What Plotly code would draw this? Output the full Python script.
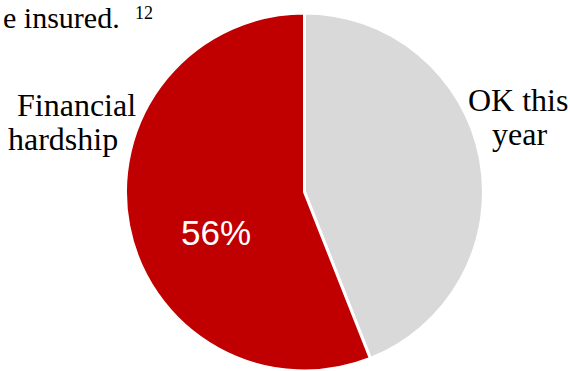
import plotly.graph_objects as go

categories = ["OK this year", "Financial hardship"]
values = [44, 56]
colors = ["#D9D9D9", "#C00000"]
label_lines = {"Financial hardship": ["Financial", "hardship"], "OK this year": ["OK this", "year"]}
header_text = "e insured."
footnote = "12"

W, H = 570, 371

def px(x):
    return x / W

def py(y):
    return 1 - y / H

fig = go.Figure(go.Pie(
    labels=categories,
    values=values,
    marker=dict(colors=colors, line=dict(color="white", width=3)),
    sort=False,
    direction="clockwise",
    rotation=0,
    textinfo="none",
    showlegend=False,
    domain=dict(x=[124 / W, 485 / W], y=[0, 1 - 13 / H]),
))

serif = "Liberation Serif, Times New Roman, serif"
ann = []
left = label_lines["Financial hardship"]
right = label_lines["OK this year"]
ann.append(dict(text=left[0], x=px(76), y=py(105), xanchor="center", yanchor="middle",
                font=dict(family=serif, size=32, color="black")))
ann.append(dict(text=left[1], x=px(63), y=py(139), xanchor="center", yanchor="middle",
                font=dict(family=serif, size=32, color="black")))
ann.append(dict(text=right[0], x=px(518), y=py(100), xanchor="center", yanchor="middle",
                font=dict(family=serif, size=32, color="black")))
ann.append(dict(text=right[1], x=px(519), y=py(134), xanchor="center", yanchor="middle",
                font=dict(family=serif, size=32, color="black")))
pct = f"{values[1]}%"
ann.append(dict(text=pct, x=px(216), y=py(233), xanchor="center", yanchor="middle",
                font=dict(family="Liberation Sans, Arial, sans-serif", size=35, color="white")))
ann.append(dict(text=header_text, x=px(122), y=py(17), xanchor="right", yanchor="middle",
                font=dict(family=serif, size=30, color="black")))
ann.append(dict(text=footnote, x=px(133), y=py(13), xanchor="left", yanchor="middle",
                font=dict(family=serif, size=18, color="black")))

for a in ann:
    a.update(xref="paper", yref="paper", showarrow=False)

fig.update_layout(
    width=W, height=H,
    margin=dict(l=0, r=0, t=0, b=0),
    paper_bgcolor="white",
    plot_bgcolor="white",
    annotations=ann,
)

fig.write_html("out.html", config={"displayModeBar": False},
               post_script="document.body.style.margin='0px';document.body.style.overflow='hidden';")
